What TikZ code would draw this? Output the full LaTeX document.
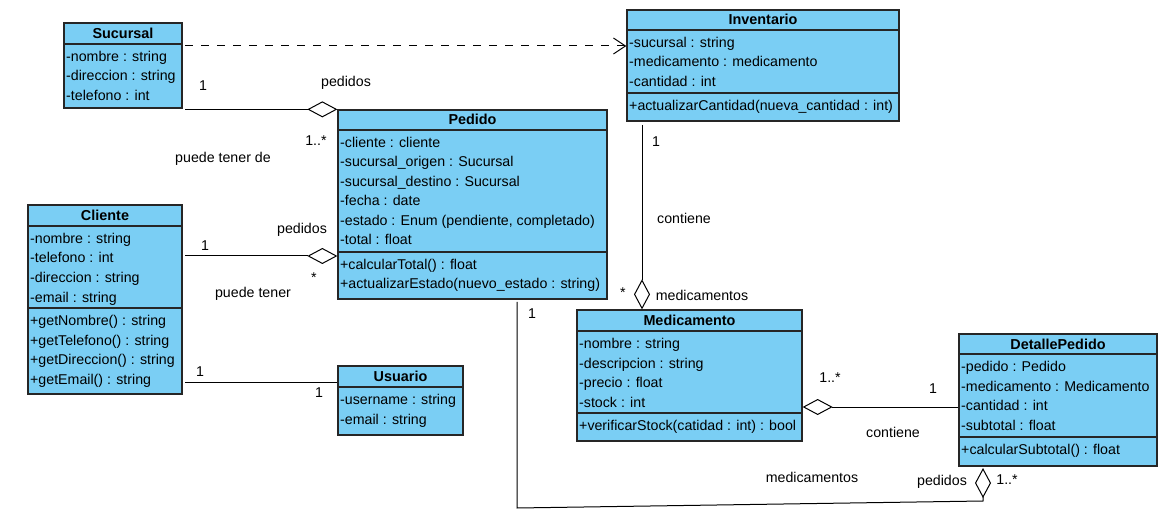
\documentclass[tikz,border=0pt]{standalone}
\usepackage{fontspec}
\setmainfont{Liberation Sans}
\usetikzlibrary{arrows.meta,fit}
\definecolor{umlblue}{RGB}{122,206,244}

% class box: name, x1, y1, x2, y2, header line y, title, attribute list
\newcommand{\umlclass}[8]{%
  \node[classbox, fit={(#2,#3) (#4,#5)}] (#1) {};
  \draw[classline] (#2,#6) -- (#4,#6);
  \node[titletext] (#1-title) at ({(#2+#4)/2},{(#3+#6)/2+5}) {#7};
  \foreach \t [count=\i] in {#8}
    \node[rowtext] (#1-a\i) at (#2+2,{#6+17.5+(\i-1)*19.5}) {\t};
}
% operations compartment: name, x1, x2, separator y, operation list
\newcommand{\umlops}[5]{%
  \draw[classline] (#2,#4) -- (#3,#4);
  \foreach \t [count=\i] in {#5}
    \node[rowtext] (#1-o\i) at (#2+2,{#4+17.5+(\i-1)*19.5}) {\t};
}

\begin{document}
\begin{tikzpicture}[x=1pt,y=-1pt,
  classbox/.style={draw=black!85, fill=umlblue, line width=1.3pt, inner sep=0pt},
  classline/.style={draw=black!85, line width=1.3pt},
  titletext/.style={anchor=base, inner sep=0pt, font=\fontsize{14.4}{17}\selectfont\bfseries},
  rowtext/.style={anchor=base west, inner sep=0pt, font=\fontsize{14.2}{17}\selectfont},
  lbl/.style={anchor=base, inner sep=0pt, font=\fontsize{14.2}{17}\selectfont},
  star/.style={anchor=center, inner sep=0pt, font=\fontsize{14.2}{17}\selectfont},
  assoc/.style={draw=black, line width=1pt},
  agg/.style={assoc, -{Diamond[open,length=30pt,width=16pt]}},
  dep/.style={assoc, dash pattern=on 8pt off 8pt, -{Straight Barb[length=12pt,width=16pt]}},
]
\useasboundingbox (0,0) rectangle (1166,526);

% ---- classes ----
\umlclass{suc}{64}{23}{182}{108}{44}{Sucursal}%
  {-nombre : string, -direccion : string, -telefono : int}

\umlclass{inv}{627}{10}{899}{121}{30}{Inventario}%
  {-sucursal : string, -medicamento : medicamento, -cantidad : int}
\umlops{inv}{627}{899}{93}{+actualizarCantidad(nueva\_cantidad : int)}

\umlclass{ped}{338}{110}{607}{299}{130}{Pedido}%
  {-cliente : cliente, -sucursal\_origen : Sucursal, -sucursal\_destino : Sucursal,
   -fecha : date, {-estado : Enum (pendiente, completado)}, -total : float}
\umlops{ped}{338}{607}{252}{+calcularTotal() : float, +actualizarEstado(nuevo\_estado : string)}

\umlclass{cli}{28}{205}{182}{394}{226}{Cliente}%
  {-nombre : string, -telefono : int, -direccion : string, -email : string}
\umlops{cli}{28}{182}{308}{+getNombre() : string, +getTelefono() : string,
  +getDireccion() : string, +getEmail() : string}

\umlclass{usu}{338}{366}{463}{435}{387}{Usuario}%
  {-username : string, -email : string}

\umlclass{med}{577}{310}{802}{441}{331}{Medicamento}%
  {-nombre : string, -descripcion : string, -precio : float, -stock : int}
\umlops{med}{577}{802}{413}{+verificarStock(catidad : int) : bool}

\umlclass{det}{959}{334}{1157}{466}{354}{DetallePedido}%
  {-pedido : Pedido, -medicamento : Medicamento, -cantidad : int, -subtotal : float}
\umlops{det}{959}{1157}{437}{+calcularSubtotal() : float}

% ---- connector end points ----
\coordinate (sucR) at (185,65);
\coordinate (cliR) at (185,300);
\coordinate (invB) at (642,125);
\coordinate (pedB) at (517,302);
\coordinate (bendA) at (517,508);
\coordinate (bendB) at (983,501);

% ---- connectors ----
\draw[dep] (sucR |- 0,46) -- (inv.west |- 0,46);
\draw[agg] (sucR |- ped.north west) -- (ped.north west);
\draw[agg] (cliR |- 0,256) -- (ped.west |- 0,256);
\draw[assoc] (cliR |- 0,382) -- (usu.west |- 0,382);
\draw[agg] (invB) -- (invB |- med.north);
\draw[agg] (det.west |- 0,407) -- (med.east |- 0,407);
\draw[agg] (pedB) -- (bendA) -- (bendB) -- (bendB |- 0,468);

% ---- association labels ----
\node[lbl] (l1) at (203,91) {1};
\node[lbl] (l2) at (346,87) {pedidos};
\node[lbl] (l3) at (316,146) {1..*};
\node[lbl] (l4) at (223,163) {puede tener de};
\node[lbl] (l5) at (205,251) {1};
\node[lbl] (l6) at (302,234) {pedidos};
\node[star] (l7) at (314,278) {*};
\node[lbl] (l8) at (253,298) {puede tener};
\node[lbl] (l9) at (200,376) {1};
\node[lbl] (l10) at (319,397) {1};
\node[lbl] (l11) at (656,147) {1};
\node[lbl] (l12) at (684,224) {contiene};
\node[star] (l13) at (623,293) {*};
\node[lbl] (l14) at (702,301) {medicamentos};
\node[lbl] (l15) at (830,382) {1..*};
\node[lbl] (l16) at (933,393) {1};
\node[lbl] (l17) at (893,437) {contiene};
\node[lbl] (l18) at (532,318) {1};
\node[lbl] (l19) at (812,482) {medicamentos};
\node[lbl] (l20) at (942,485) {pedidos};
\node[lbl] (l21) at (1007,484) {1..*};
\end{tikzpicture}
\end{document}
